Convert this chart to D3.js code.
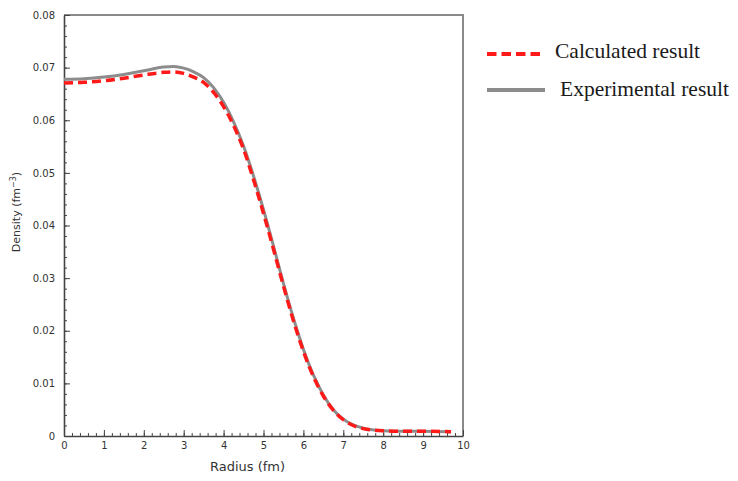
<!DOCTYPE html>
<html>
<head>
<meta charset="utf-8">
<script src="https://cdn.jsdelivr.net/npm/d3@7"></script>
<style>
  body { margin: 0; background: #fff; }
  svg text { font-family: "DejaVu Sans", Verdana, sans-serif; }
</style>
</head>
<body>
<div id="chart"></div>
<script>
// radius (fm)
var radius = [0, 0.5, 1, 1.5, 2, 2.5, 2.75, 3, 3.25, 3.5, 3.75, 4, 4.25, 4.5, 4.75,
              5, 5.25, 5.5, 5.75, 6, 6.25, 6.5, 6.75, 7, 7.25, 7.5, 8, 8.5, 9, 9.7];
// experimental density (fm^-3)
var experimental = [0.0678, 0.0679, 0.0682, 0.0687, 0.0694, 0.0701, 0.0702, 0.0699, 0.0692, 0.0681,
                    0.0662, 0.0634, 0.0597, 0.0551, 0.0494, 0.0430, 0.0361, 0.0290, 0.0224, 0.0165,
                    0.0116, 0.0078, 0.0050, 0.0032, 0.0021, 0.0015, 0.0010, 0.0009, 0.0009, 0.0008];
// calculated density (fm^-3)
var calculated = [0.0671, 0.0672, 0.0675, 0.0680, 0.0686, 0.0691, 0.0692, 0.0689, 0.0682, 0.0672,
                  0.0653, 0.0626, 0.0590, 0.0545, 0.0487, 0.0423, 0.0355, 0.0285, 0.0219, 0.0161,
                  0.0113, 0.0076, 0.0049, 0.0031, 0.0020, 0.0014, 0.0010, 0.0009, 0.0009, 0.0008];
var xTicks = [0, 1, 2, 3, 4, 5, 6, 7, 8, 9, 10];
var yTicks = [0, 0.01, 0.02, 0.03, 0.04, 0.05, 0.06, 0.07, 0.08];
var legendLabels = ["Calculated result", "Experimental result"];

var W = 738, H = 481;
var margin = {top: 15, right: 275, bottom: 45, left: 64},
    width = W - margin.left - margin.right,
    height = H - margin.top - margin.bottom;

var svg = d3.select("#chart").append("svg")
    .attr("width", W)
    .attr("height", H);

var g = svg.append("g")
    .attr("transform", "translate(" + margin.left + "," + margin.top + ")");

var x = d3.scaleLinear().domain([0, 10]).range([0, width]);
var y = d3.scaleLinear().domain([0, 0.08]).range([height, 0]);

// frame (top and right)
g.append("path")
    .attr("d", "M0,0H" + width + "V" + height)
    .attr("fill", "none")
    .attr("stroke", "#8a8a8a")
    .attr("stroke-width", 2);

// minor ticks
var xMinor = d3.range(0, 10.01, 0.2);
var yMinor = d3.range(0, 0.0801, 0.002);
g.append("g")
    .attr("transform", "translate(0," + height + ")")
    .call(d3.axisBottom(x).tickValues(xMinor).tickSize(-3).tickFormat(""))
    .call(function(a) { a.select(".domain").remove(); })
    .selectAll("line").attr("stroke", "#444");
g.append("g")
    .call(d3.axisLeft(y).tickValues(yMinor).tickSize(-3).tickFormat(""))
    .call(function(a) { a.select(".domain").remove(); })
    .selectAll("line").attr("stroke", "#444");

// major axes
var xAxis = g.append("g")
    .attr("transform", "translate(0," + height + ")")
    .call(d3.axisBottom(x).tickValues(xTicks).tickSize(-6).tickPadding(6)
        .tickFormat(d3.format("d")).tickSizeOuter(0));
var yAxis = g.append("g")
    .call(d3.axisLeft(y).tickValues(yTicks).tickSize(-6).tickPadding(9)
        .tickFormat(function(d) { return d === 0 ? "0" : d3.format(".2f")(d); }).tickSizeOuter(0));

[xAxis, yAxis].forEach(function(a) {
    a.select(".domain").attr("stroke", "#444").attr("stroke-width", 1.6);
    a.selectAll("line").attr("stroke", "#444");
    a.selectAll("text").attr("fill", "#333")
        .style("font-family", "'DejaVu Sans', sans-serif").style("font-size", "10px");
});

// curves
var line = d3.line()
    .x(function(d) { return x(d[0]); })
    .y(function(d) { return y(d[1]); })
    .curve(d3.curveMonotoneX);

g.append("path")
    .datum(d3.zip(radius, experimental))
    .attr("d", line)
    .attr("fill", "none")
    .attr("stroke", "#8c8c8c")
    .attr("stroke-width", 3);

g.append("path")
    .datum(d3.zip(radius, calculated))
    .attr("d", line)
    .attr("fill", "none")
    .attr("stroke", "#ff1a1a")
    .attr("stroke-width", 3.5)
    .attr("stroke-dasharray", "9,5");

// axis labels
g.append("text")
    .attr("x", width / 2 - 16)
    .attr("y", height + 35)
    .attr("text-anchor", "middle")
    .attr("fill", "#333")
    .style("font-size", "13px")
    .text("Radius (fm)");

g.append("text")
    .attr("transform", "translate(" + (-44) + "," + 197 + ") rotate(-90)")
    .attr("text-anchor", "middle")
    .attr("fill", "#333")
    .style("font-size", "11px")
    .html("Density (fm<tspan dy='-4' style='font-size:8px'>\u22123</tspan><tspan dy='4'>)</tspan>");

// legend
var legend = svg.append("g").attr("transform", "translate(487,0)");
legend.append("line")
    .attr("x1", 0).attr("x2", 54).attr("y1", 54).attr("y2", 54)
    .attr("stroke", "#ff1a1a").attr("stroke-width", 4)
    .attr("stroke-dasharray", "9.5,5");
legend.append("line")
    .attr("x1", 0).attr("x2", 58).attr("y1", 90).attr("y2", 90)
    .attr("stroke", "#8c8c8c").attr("stroke-width", 4);
legend.selectAll("text.leg")
    .data(legendLabels)
    .enter().append("text")
    .attr("class", "leg")
    .attr("x", function(d, i) { return i === 0 ? 68 : 73; })
    .attr("y", function(d, i) { return i === 0 ? 58 : 96; })
    .attr("fill", "#1a1a1a")
    .style("font-family", "'Liberation Serif', 'Times New Roman', serif")
    .style("font-size", "21.5px")
    .text(function(d) { return d; });
</script>
</body>
</html>
